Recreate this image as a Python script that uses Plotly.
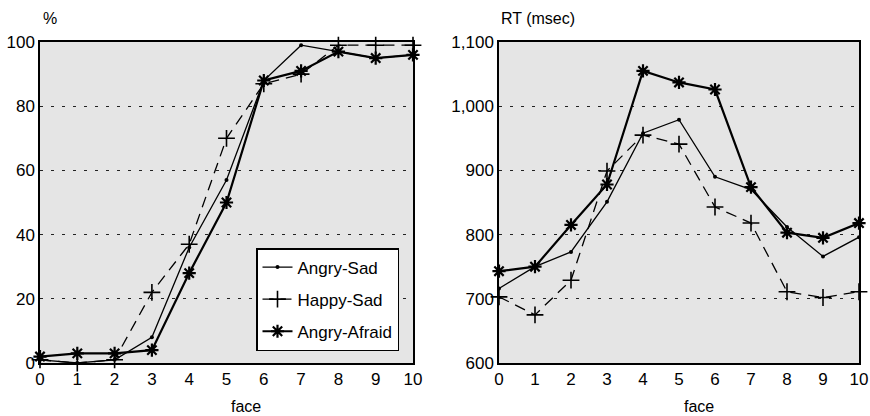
import plotly.graph_objects as go

faces = list(range(11))
x_tick_labels = [str(i) for i in faces]

pct_angry_sad = [1, 0, 1, 8, 36, 57, 88, 99, 97, 95, 96]
pct_happy_sad = [1, 0, 1, 22, 37, 70, 87, 90, 99, 99, 99]
pct_angry_afraid = [2, 3, 3, 4, 28, 50, 88, 91, 97, 95, 96]

rt_angry_sad = [716, 750, 773, 851, 958, 979, 890, 870, 812, 766, 796]
rt_happy_sad = [703, 675, 729, 899, 955, 941, 843, 818, 711, 702, 711]
rt_angry_afraid = [743, 750, 815, 878, 1055, 1037, 1026, 874, 803, 795, 818]

series_names = ["Angry-Sad", "Happy-Sad", "Angry-Afraid"]

FONT = "Liberation Sans, Arial, sans-serif"

styles = {
    "Angry-Sad": dict(line=dict(color="black", width=1.3, dash="solid"),
                      marker=dict(symbol="circle", size=4, color="black")),
    "Happy-Sad": dict(line=dict(color="black", width=1.3, dash="11px,7px"),
                      marker=dict(symbol="cross-thin-open", size=12,
                                  line=dict(color="black", width=1.6))),
    "Angry-Afraid": dict(line=dict(color="black", width=2.2, dash="solid"),
                         marker=dict(symbol="asterisk-open", size=11,
                                     line=dict(color="black", width=2.2))),
}

fig = go.Figure()
left = [pct_angry_sad, pct_happy_sad, pct_angry_afraid]
right = [rt_angry_sad, rt_happy_sad, rt_angry_afraid]
for name, yl, yr in zip(series_names, left, right):
    st = styles[name]
    fig.add_trace(go.Scatter(x=faces, y=yl, mode="lines+markers", name=name,
                             line=st["line"], marker=st["marker"],
                             legendgroup=name, showlegend=True,
                             cliponaxis=False, xaxis="x", yaxis="y"))
    fig.add_trace(go.Scatter(x=faces, y=yr, mode="lines+markers", name=name,
                             line=st["line"], marker=st["marker"],
                             legendgroup=name, showlegend=False,
                             cliponaxis=False, xaxis="x2", yaxis="y2"))

W, H = 870, 416


def fx(px):
    return px / W


def fy(py):
    return 1 - py / H


common_x = dict(range=[0, 10], tickmode="array", tickvals=faces, ticktext=x_tick_labels,
                showline=True, linecolor="black", linewidth=1.5, mirror=True,
                showgrid=False, zeroline=False, ticks="", automargin=False,
                tickfont=dict(size=17, color="black", family=FONT))
common_y = dict(showline=True, linecolor="black", linewidth=1.5, mirror=True,
                showgrid=True, gridcolor="#222", gridwidth=1, griddash="3px,8px",
                zeroline=False, ticks="", automargin=False,
                tickfont=dict(size=17, color="black", family=FONT))

fig.update_layout(
    width=W, height=H,
    margin=dict(l=0, r=0, t=0, b=0),
    template="none",
    paper_bgcolor="white",
    plot_bgcolor="#e5e5e5",
    font=dict(family=FONT, color="black"),
    xaxis=dict(domain=[fx(40), fx(413)], anchor="y", **common_x),
    yaxis=dict(domain=[fy(363), fy(42)], anchor="x", range=[0, 100],
               tickvals=[0, 20, 40, 60, 80, 100], **common_y),
    xaxis2=dict(domain=[fx(499), fx(859)], anchor="y2", **common_x),
    yaxis2=dict(domain=[fy(363), fy(42)], anchor="x2", range=[600, 1100],
                tickvals=[600, 700, 800, 900, 1000, 1100], tickformat=",d", **common_y),
    showlegend=True,
    legend=dict(x=fx(256), y=fy(248), xanchor="left", yanchor="top",
                bgcolor="white", bordercolor="black", borderwidth=1.5,
                font=dict(size=17, color="black", family=FONT),
                tracegroupgap=7, itemwidth=30),
    annotations=[
        dict(text="%", x=fx(41), y=fy(19), xref="paper", yref="paper",
             xanchor="left", yanchor="middle", showarrow=False,
             font=dict(size=16, color="black", family=FONT)),
        dict(text="RT (msec)", x=fx(499), y=fy(19), xref="paper", yref="paper",
             xanchor="left", yanchor="middle", showarrow=False,
             font=dict(size=16, color="black", family=FONT)),
        dict(text="face", x=fx(246), y=fy(406), xref="paper", yref="paper",
             xanchor="center", yanchor="middle", showarrow=False,
             font=dict(size=16, color="black", family=FONT)),
        dict(text="face", x=fx(699), y=fy(406), xref="paper", yref="paper",
             xanchor="center", yanchor="middle", showarrow=False,
             font=dict(size=16, color="black", family=FONT)),
    ],
)

# Remove the default page margin so the figure fills the 870x416 window exactly.
fig.write_html(
    "out.html",
    config={"displayModeBar": False},
    post_script="document.body.style.margin='0';document.body.style.overflow='hidden';",
)
